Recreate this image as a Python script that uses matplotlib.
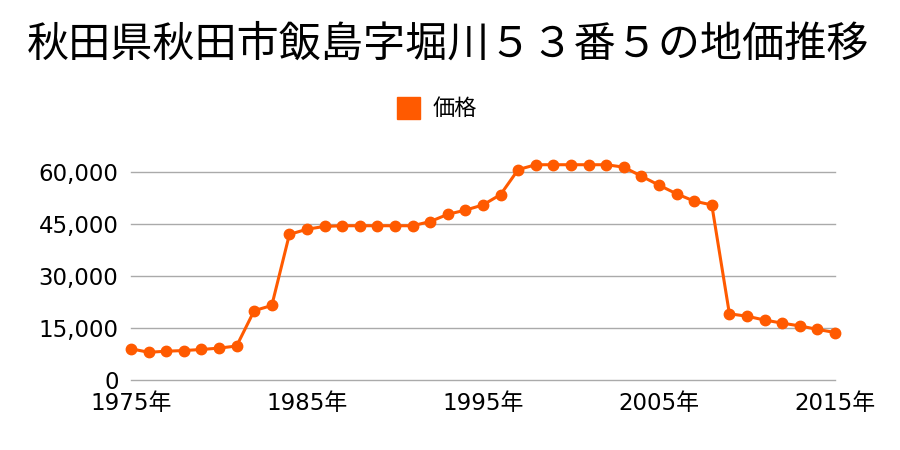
import matplotlib
matplotlib.use("Agg")
import matplotlib.pyplot as plt
from matplotlib.ticker import FuncFormatter
from matplotlib.patches import Rectangle

plt.rcParams['font.family'] = ['Noto Sans CJK JP', 'DejaVu Sans']

title = "秋田県秋田市飯島字堀川５３番５の地価推移"
series_name = "価格"
years = list(range(1975, 2016))
prices = [9000, 8000, 8300, 8500, 8800, 9200, 9800, 20000, 21500, 42000,
          43500, 44300, 44500, 44500, 44500, 44500, 44500, 45700, 47800, 49000,
          50500, 53500, 60700, 62100, 62100, 62100, 62100, 62100, 61400, 58800,
          56200, 53700, 51600, 50500, 19100, 18400, 17300, 16400, 15600, 14600,
          13700]
yticks = [0, 15000, 30000, 45000, 60000]
xticks = [1975, 1985, 1995, 2005, 2015]

color = '#ff5a00'
tick_family = ['DejaVu Sans', 'Noto Sans CJK JP']

fig = plt.figure(figsize=(9, 4.5), dpi=100)
ax = fig.add_axes([131/900, 1-380/450, (835-131)/900, (380-150)/450])
ax.plot(years, prices, color=color, lw=2.2, marker='o', ms=7.5,
        label=series_name, zorder=3, clip_on=False)
ax.set_xlim(1975, 2015)
ax.set_ylim(0, (380-150)*60000/208)
ax.set_yticks(yticks)
ax.yaxis.set_major_formatter(FuncFormatter(lambda v, p: f"{int(v):,}"))
ax.set_xticks(xticks)
ax.set_xticklabels([f"{y}年" for y in xticks])
ax.grid(False)
for v in yticks:
    ax.axhline(v, color='#aaaaaa', lw=1, zorder=1, clip_on=False)
for s in ax.spines.values():
    s.set_visible(False)
ax.tick_params(length=0, labelsize=16.5)
ax.tick_params(axis='y', pad=9)
ax.tick_params(axis='x', pad=9)
for lab in ax.get_xticklabels() + ax.get_yticklabels():
    lab.set_family(tick_family)

fig.text(448/900, 1-45/450, title, ha='center', va='center', fontsize=30.3)
fig.patches.append(Rectangle((397/900, 1-119/450), 23/900, 22/450,
                             transform=fig.transFigure, color=color))
fig.text(433/900, 1-108/450, series_name, ha='left', va='center', fontsize=16)

fig.savefig("out.png", dpi=100)
